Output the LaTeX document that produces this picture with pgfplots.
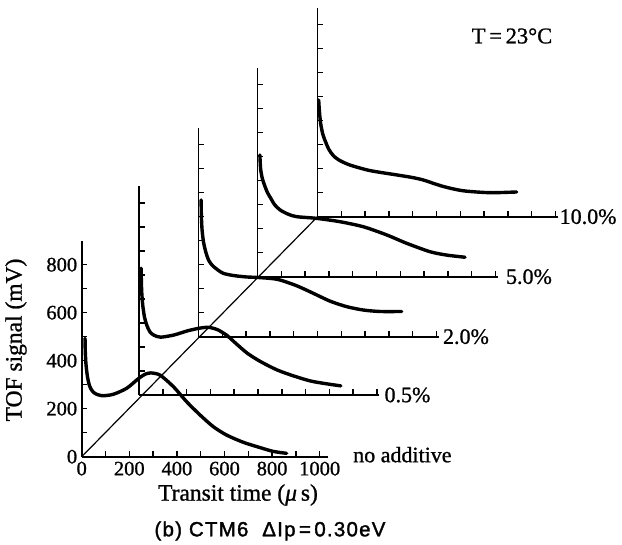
\documentclass[border=0pt]{standalone}
\usepackage{pgfplots}
\pgfplotsset{compat=1.18}
\usepackage{fontspec}
\setmainfont{Liberation Serif}[FakeBold=1.0]
\newfontfamily\capfont{Liberation Sans}[FakeBold=1.6, LetterSpace=6]

% Transient photocurrent traces, each in its own frame, stacked in a waterfall
\pgfplotstableread{
t    v
14   493
15   440
18   385
24   335
32   298
42   277
55   264
72   257
91   254
133  260
189  285
238  325
265  343
290  349
329  340
385  292
441  229
497  174
553  125
609  90
679  60
749  38
805  22
861  14
}\noadd
\pgfplotstableread{
t    v
9    528
10   470
12   420
16   372
23   325
33   290
46   263
63   249
91   241
147  250
203  267
252  278
292  282
330  272
370  248
399  222
455  174
511  139
581  104
651  79
722  58
792  46
848  38
}\halfpct
\pgfplotstableread{
t    v
11   570
12   505
15   445
21   395
30   355
42   320
58   297
80   279
104  264
146  255
200  249
245  247
300  243
340  237
413  212
484  180
553  148
623  125
693  111
763  105
854  105
}\twopct
\pgfplotstableread{
t    v
10   507
13   450
20   410
30   380
42   350
55   328
72   300
95   278
130  260
165  250
249  243
347  229
445  208
543  174
627  139
725  104
795  90
872  81
}\fivepct
\pgfplotstableread{
t    v
5    486
8    440
13   390
22   345
33   314
48   280
66   255
90   236
137  215
221  192
333  174
400  163
444  153
528  126
612  108
725  100
837  103
}\tenpct

\pgfplotsset{
  tof/.style={
    x=0.238pt, y=0.24pt,
    xmin=0, ymin=0, enlargelimits=false,
    axis lines=left,
    axis line style={-, line width=1.8pt},
    clip=false,
    tick align=inside,
    major tick length=5.5pt, minor tick length=5.5pt,
    every tick/.style={line width=1.5pt, black},
    tick label style={font=\fontsize{20.5}{21}\selectfont},
    /pgf/number format/assume math mode=true,
    /pgf/number format/1000 sep={},
    anchor=south west,
  },
  sub/.style={
    tof, xmax=1010, ymax=870,
    xtick={100,200,...,1000}, ytick={100,200,...,800},
    xticklabels={}, yticklabels={},
  },
  trace/.style={black, line width=3.4pt, no marks, smooth, tension=0.45,
    line join=round, line cap=round},
}
\tikzset{tag/.style={anchor=west, font=\fontsize{22}{23}\selectfont, inner sep=0pt}}

\begin{document}
\begin{tikzpicture}
\useasboundingbox (0,0) rectangle (622pt,545pt);

% no additive
\begin{axis}[tof, at={(81.7pt,88.3pt)}, xmax=1035, ymax=900,
  xtick={0,200,...,1000}, minor xtick={100,300,...,900},
  ytick={0,200,...,800}, minor ytick={100,300,...,700},
  xticklabel style={yshift=-1.5pt}, yticklabel style={xshift=-1pt}]
  \addplot[black, line width=1.2pt] coordinates {(0,0) (991,1000)};
  \addplot[trace] table[x=t, y=v] {\noadd};
  \node[tag] at (axis cs:1035,0) [xshift=25pt, yshift=2pt] {no additive};
\end{axis}

% 0.5 %
\begin{axis}[sub, at={(139pt,150pt)}]
  \addplot[trace] table[x=t, y=v] {\halfpct};
  \node[tag] at (axis cs:1010,0) [xshift=5pt] {0.5\%};
\end{axis}

% 2.0 %
\begin{axis}[sub, at={(198.5pt,208.3pt)}]
  \addplot[trace] table[x=t, y=v] {\twopct};
  \node[tag] at (axis cs:1010,0) [xshift=4pt] {2.0\%};
\end{axis}

% 5.0 %
\begin{axis}[sub, at={(257.5pt,268.3pt)}]
  \addplot[trace] table[x=t, y=v] {\fivepct};
  \node[tag] at (axis cs:1010,0) [xshift=8pt] {5.0\%};
\end{axis}

% 10.0 %
\begin{axis}[sub, at={(317.5pt,328.3pt)}]
  \addplot[trace] table[x=t, y=v] {\tenpct};
  \node[tag] at (axis cs:1000,0) [xshift=4pt] {10.0\%};
\end{axis}

% titles and labels
\node[font=\fontsize{23.5}{25}\selectfont, rotate=90] at (16pt,205pt) {TOF signal (mV)};
\node[font=\fontsize{23.5}{25}\selectfont] at (238pt,50pt) {Transit time ({\itshape μ}\,s)};
\node[font=\fontsize{22.5}{24}\selectfont] at (512pt,509pt) {T\,=\,23°C};
\node[font=\capfont\fontsize{20.5}{22}\selectfont] at (270pt,14pt) {(b) CTM6\ \ ΔIp\,=\,0.30eV};
\end{tikzpicture}
\end{document}
